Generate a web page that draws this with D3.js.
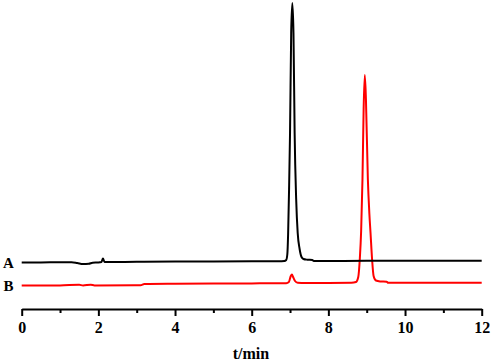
<!DOCTYPE html>
<html><head><meta charset="utf-8">
<script src="https://cdn.jsdelivr.net/npm/d3@7"></script>
<style>
html,body{margin:0;padding:0;background:#fff;}
svg{display:block;}
</style></head>
<body>
<svg id="c" width="491" height="364"></svg>
<script>
// Data (time in min, detector signal in arbitrary units; trace B offset below A)
const majorTicks = [0, 2, 4, 6, 8, 10, 12];
const minorTicks = [1, 3, 5, 7, 9, 11];
const seriesNames = ["A", "B"];
const traceA = [
  [0.0,46.5],[0.5,46.6],[1.0,46.7],[1.3,46.8],[1.45,46.0],[1.6,45.0],[1.75,45.2],[1.85,46.3],
  [2.0,46.5],[2.08,47.0],[2.12,50.5],[2.16,47.0],[2.25,47.0],[3.0,47.2],[4.0,47.5],[5.0,47.6],
  [6.0,47.7],[6.7,47.8],[6.85,48.0],[6.90,49.0],[6.93,55],[6.95,75],[6.975,120],[7.00,176],
  [7.03,276],[7.06,306],[7.09,276],[7.12,176],[7.16,110],[7.20,76],[7.25,60],[7.30,52],
  [7.35,50],[7.45,49.3],[7.58,49.0],[7.62,48.0],[7.8,48.0],[9.0,48.2],[10.0,48.2],[11.0,48.3],[12.0,48.3]
];
const traceB = [
  [0.0,23.5],[1.0,23.6],[1.5,24.2],[1.6,23.6],[1.8,24.3],[1.9,23.6],[3.1,23.7],[3.2,25.0],
  [4.0,25.3],[5.0,25.5],[6.0,25.6],[6.9,25.8],[6.97,27],[7.02,33],[7.05,34.5],[7.08,32],
  [7.13,28],[7.2,26.2],[7.4,25.9],[8.0,26.0],[8.6,26.2],[8.72,27],[8.78,32],[8.82,50],
  [8.855,78],[8.89,130],[8.92,200],[8.95,234],[8.98,210],[9.03,130],[9.07,95],[9.10,76],
  [9.14,50],[9.18,33],[9.24,28.5],[9.35,27.6],[9.52,27.3],[9.56,26.2],[10.0,26.2],[11.0,26.3],[12.0,26.3]
];
const xTitle = "t/min";

const svg = d3.select("#c");
const x = d3.scaleLinear().domain([0, 12]).range([21.7, 481.7]);
const y = d3.scaleLinear().domain([0, 300]).range([309, 9]);
const serif = "'Liberation Serif','Times New Roman',serif";

const line = d3.line().x(d => x(d[0])).y(d => y(d[1])).curve(d3.curveMonotoneX);

svg.append("path").datum(traceB).attr("d", line)
  .attr("fill","none").attr("stroke","#ff0000").attr("stroke-width",2).attr("stroke-linejoin","round");
svg.append("path").datum(traceA).attr("d", line)
  .attr("fill","none").attr("stroke","#000").attr("stroke-width",2).attr("stroke-linejoin","round");

// series labels
const labelData = [[seriesNames[0], traceA[0][1]], [seriesNames[1], traceB[0][1]]];
svg.selectAll("text.lab").data(labelData).enter().append("text")
  .attr("class","lab").attr("x", 8.5).attr("y", d => y(d[1]))
  .attr("dy","0.35em").attr("text-anchor","middle")
  .attr("font-family", serif).attr("font-weight","bold").attr("font-size", 15)
  .text(d => d[0]);

// axis
const gx = svg.append("g").attr("transform", `translate(0,${y(0)})`);
gx.call(d3.axisBottom(x).tickValues(majorTicks).tickFormat(d3.format("d")).tickSize(7).tickSizeOuter(0).tickPadding(6));
gx.select(".domain").attr("stroke-width", 2);
gx.selectAll(".tick line").attr("stroke-width", 2);
gx.selectAll(".tick text").attr("font-family", serif).attr("font-weight","bold").attr("font-size", 16).attr("fill","#000");

const gm = svg.append("g").attr("transform", `translate(0,${y(0)})`);
gm.call(d3.axisBottom(x).tickValues(minorTicks).tickFormat("").tickSize(4).tickSizeOuter(0));
gm.select(".domain").remove();
gm.selectAll(".tick line").attr("stroke-width", 2);

svg.append("text").attr("x", 251).attr("y", 359).attr("text-anchor","middle")
  .attr("font-family", serif).attr("font-weight","bold").attr("font-size", 16)
  .text(xTitle);
</script>
</body></html>
